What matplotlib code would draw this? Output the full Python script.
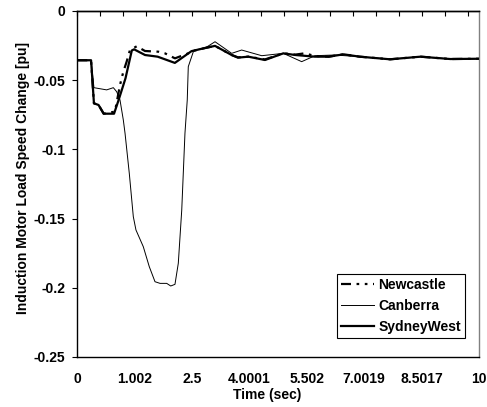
import matplotlib
matplotlib.use("Agg")
import matplotlib.pyplot as plt

plt.rcParams['font.family'] = ['Liberation Sans', 'DejaVu Sans']
plt.rcParams['font.weight'] = 'bold'

# x positions are category positions on the Excel category axis (35 intervals)
tick_label_pos = [0, 5, 10, 15, 20, 25, 30, 35]
tick_labels = ["0", "1.002", "2.5", "4.0001", "5.502", "7.0019", "8.5017", "10"]
top_tick_pos = list(range(0, 35, 2))
y_ticks = [0, -0.05, -0.1, -0.15, -0.2, -0.25]
y_tick_labels = ["0", "-0.05", "-0.1", "-0.15", "-0.2", "-0.25"]

sw_x = [0, 1.2, 1.45, 1.85, 2.3, 3.2, 3.6, 4.2, 4.75, 4.95, 5.9, 7.0, 8.5, 9.95,
        11.1, 12.0, 13.45, 14.0, 14.9, 16.35, 17.95, 19.0, 20.7, 21.9, 23.2, 24.6,
        27.25, 29.9, 32.5, 35]
sw_y = [-0.0356, -0.0356, -0.0667, -0.0679, -0.0742, -0.0742, -0.0643, -0.0486,
        -0.0285, -0.0277, -0.0318, -0.0330, -0.0375, -0.0290, -0.0268, -0.0252,
        -0.0318, -0.0337, -0.0330, -0.0354, -0.0306, -0.0318, -0.0330, -0.0330,
        -0.0313, -0.0330, -0.0349, -0.0330, -0.0347, -0.0345]

nc_x = [0, 1.2, 1.45, 1.85, 2.3, 3.28, 3.72, 4.01, 4.3, 4.59, 5.18, 5.9, 7.06,
        7.64, 8.51, 9.67, 10.26, 11.1, 12.0, 13.45, 14.0, 14.9, 16.35, 17.95,
        19.0, 19.8, 20.7, 21.9, 23.2, 24.6, 27.25, 29.9, 32.5, 35]
nc_y = [-0.0356, -0.0356, -0.0667, -0.0679, -0.0742, -0.0727, -0.0535, -0.0439,
        -0.0366, -0.0282, -0.0255, -0.0289, -0.0294, -0.0306, -0.0342, -0.0306,
        -0.0285, -0.0268, -0.0252, -0.0318, -0.0335, -0.0330, -0.0350, -0.0306,
        -0.0315, -0.0306, -0.0325, -0.0330, -0.0313, -0.0330, -0.0349, -0.0330,
        -0.0347, -0.0345]

cb_x = [0, 1.2, 1.45, 2.56, 3.14, 3.43, 3.72, 4.01, 4.16, 4.53, 4.88, 5.11, 5.75,
        6.27, 6.77, 7.21, 7.79, 8.14, 8.51, 8.80, 9.10, 9.38, 9.58, 9.67, 10.11,
        10.26, 11.13, 12.0, 13.45, 14.32, 16.07, 17.95, 19.55, 20.71, 22.45,
        24.6, 27.25, 29.9, 32.5, 35]
cb_y = [-0.0356, -0.0356, -0.0554, -0.0570, -0.0554, -0.0583, -0.0643, -0.0788,
        -0.0884, -0.1173, -0.1486, -0.1582, -0.1703, -0.1847, -0.1956, -0.1968,
        -0.1968, -0.1987, -0.1975, -0.1823, -0.1438, -0.0884, -0.0643, -0.0402,
        -0.0294, -0.0282, -0.0268, -0.0222, -0.0306, -0.0282, -0.0323, -0.0306,
        -0.0366, -0.0323, -0.0318, -0.0330, -0.0349, -0.0330, -0.0347, -0.0345]

FS = 10
W, H = 487, 407
fig = plt.figure(figsize=(W / 100, H / 100), dpi=100)
L, R, T, B = 77.3, 479, 11, 357
ax = fig.add_axes([L / W, (H - B) / H, (R - L) / W, (B - T) / H])

ax.plot(nc_x, nc_y, color='black', lw=1.6, dashes=(4.5, 2.5, 1.2, 2.5, 1.2, 2.5),
        label='Newcastle', zorder=3)
ax.plot(cb_x, cb_y, color='black', lw=0.7, label='Canberra', zorder=2)
ax.plot(sw_x, sw_y, color='black', lw=1.6, label='SydneyWest', zorder=4)

ax.set_xlim(0, 35)
ax.set_ylim(-0.25, 0)
ax.set_yticks(y_ticks)
ax.set_yticklabels(y_tick_labels, fontsize=FS, fontweight='bold')
ax.tick_params(axis='y', direction='out', length=3.5, width=0.8, pad=5)
ax.set_xticks(tick_label_pos)
ax.set_xticklabels(tick_labels, fontsize=FS, fontweight='bold')
ax.tick_params(axis='x', bottom=True, top=False, length=0, pad=11)

sec = ax.secondary_xaxis('top')
sec.set_xticks(top_tick_pos)
sec.set_xticklabels([])
sec.tick_params(direction='in', length=3.5, width=0.8)
sec.spines['top'].set_linewidth(1.0)

for s in ['left', 'bottom', 'top']:
    ax.spines[s].set_color('black')
    ax.spines[s].set_linewidth(1.0)
ax.spines['right'].set_color('#808080')
ax.spines['right'].set_linewidth(1.0)

fig.text(23 / W, 1 - 178.5 / H, 'Induction Motor Load Speed Change [pu]',
         rotation=90, ha='center', va='center', fontsize=FS, fontweight='bold')
fig.text(267 / W, 1 - 395 / H, 'Time (sec)', ha='center', va='center',
         fontsize=FS, fontweight='bold')

leg = ax.legend(loc='lower right', bbox_to_anchor=((465 - L) / (R - L), (B - 338.3) / (B - T)),
                frameon=True, fancybox=False, edgecolor='black', framealpha=1,
                prop={'size': FS, 'weight': 'bold'}, handlelength=2.4,
                handletextpad=0.3, borderpad=0.3, labelspacing=0.5, borderaxespad=0)
leg.get_frame().set_linewidth(0.8)

fig.savefig('out.png', dpi=100)
